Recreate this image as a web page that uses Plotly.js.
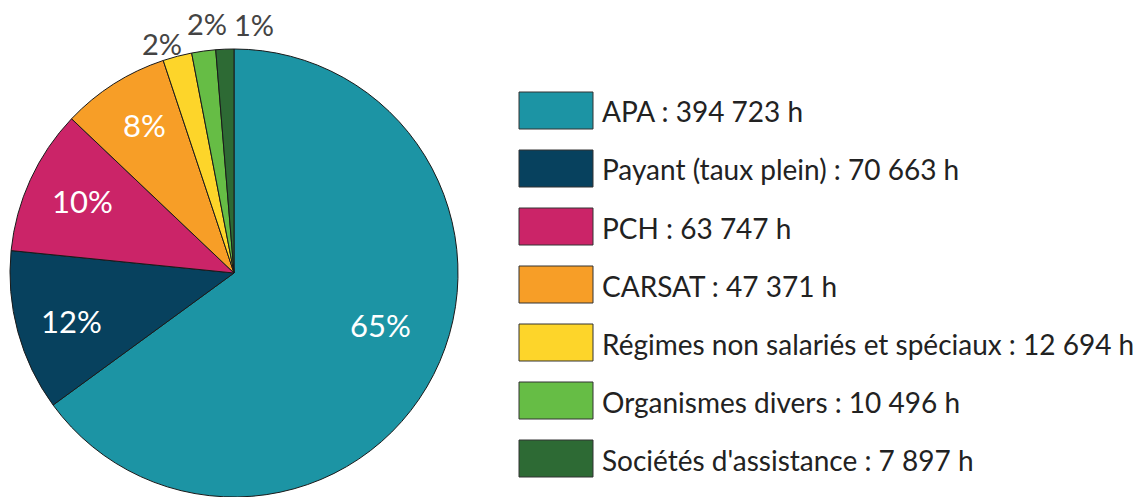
<!DOCTYPE html>
<html>
<head>
<meta charset="utf-8">
<script src="https://cdn.plot.ly/plotly-3.0.1.min.js"></script>
<style>html,body{margin:0;padding:0;background:#fff;}#chart{width:1138px;height:497px;}</style>
</head>
<body>
<div id="chart"></div>
<script>
const categories = ["APA", "Payant (taux plein)", "PCH", "CARSAT", "Régimes non salariés et spéciaux", "Organismes divers", "Sociétés d'assistance"];
const hours = [394723, 70663, 63747, 47371, 12694, 10496, 7897];
const hourLabels = ["394 723", "70 663", "63 747", "47 371", "12 694", "10 496", "7 897"];
const colors = ["#1C94A4", "#07415E", "#CB2468", "#F79E27", "#FDD52A", "#66BD45", "#2D6A34"];

const W = 1138, H = 497;
const FONT = "Lato, 'Open Sans', sans-serif";

// pie geometry (pixels)
const CX = 234, CY = 274, R = 225;

const trace = {
  type: "pie",
  labels: categories,
  values: hours,
  sort: false,
  direction: "clockwise",
  rotation: 0,
  marker: {colors: colors, line: {color: "#1a1a1a", width: 1}},
  textinfo: "none",
  domain: {x: [(CX - R) / W, (CX + R) / W], y: [1 - (CY + R) / H, 1 - (CY - R) / H]},
  showlegend: false,
  hoverinfo: "label+value+percent"
};

const shapes = [], annotations = [];

// percentage labels, placed along each slice's mid angle
const total = hours.reduce((a, b) => a + b, 0);
const inside = [true, true, true, true, false, false, false];
// radial factor / pixel nudges for label placement
const radFactor = [0.70, 0.75, 0.75, 0.77, 1.0, 1.0, 1.0];
const nudge = [[6, -20], [0, 3], [2, -3], [3, -3], [-15, -13], [3, -28], [29, -25]];
let cum = 0;
hours.forEach((v, i) => {
  const mid = (cum + v / 2) / total * 2 * Math.PI;
  cum += v;
  const r = R * radFactor[i];
  const px = CX + r * Math.sin(mid) + nudge[i][0];
  const py = CY - r * Math.cos(mid) + nudge[i][1];
  annotations.push({
    xref: "paper", yref: "paper", x: px / W, y: 1 - py / H,
    xanchor: "center", yanchor: "middle", showarrow: false,
    text: Math.round(v / total * 100) + "%",
    font: inside[i] ? {family: FONT, size: 31, color: "#ffffff"} : {family: FONT, size: 29, color: "#444444"}
  });
});

// legend
const boxX0 = 519, boxX1 = 593, boxH = 37, firstY = 110.5, step = 58;
categories.forEach((c, i) => {
  const cy = firstY + step * i;
  shapes.push({
    type: "rect", xref: "paper", yref: "paper",
    x0: boxX0 / W, x1: boxX1 / W,
    y0: 1 - (cy + boxH / 2) / H, y1: 1 - (cy - boxH / 2) / H,
    fillcolor: colors[i], line: {color: "#333333", width: 1}
  });
  annotations.push({
    xref: "paper", yref: "paper", x: 600 / W, y: 1 - (cy + 1) / H,
    xanchor: "left", yanchor: "middle", showarrow: false,
    text: c + " : " + hourLabels[i] + " h",
    font: {family: FONT, size: 28, color: "#222222"}
  });
});

const layout = {
  width: W, height: H,
  margin: {l: 0, r: 0, t: 0, b: 0},
  paper_bgcolor: "#ffffff",
  showlegend: false,
  shapes: shapes,
  annotations: annotations
};

Plotly.newPlot("chart", [trace], layout, {displayModeBar: false, staticPlot: true});
</script>
</body>
</html>
